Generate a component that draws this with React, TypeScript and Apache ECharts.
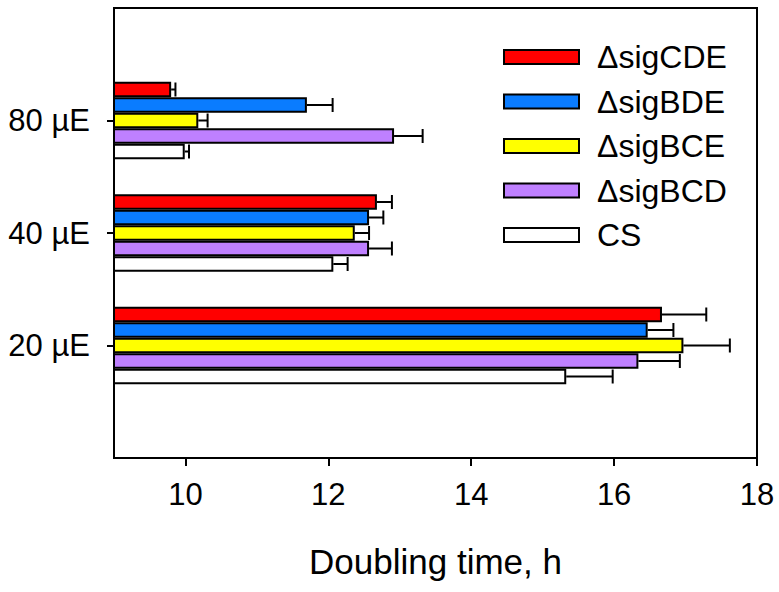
import React, { useEffect, useRef } from "react";
import * as echarts from "echarts";

const categories = ["20 µE", "40 µE", "80 µE"];
const seriesNames = ["ΔsigCDE", "ΔsigBDE", "ΔsigBCE", "ΔsigBCD", "CS"];
const seriesColors = ["#FF0000", "#0A7CFF", "#FFFF00", "#BF80FF", "#FFFFFF"];
const cdeValues = [16.67, 12.68, 9.8];
const cdeErrors = [0.62, 0.21, 0.06];
const bdeValues = [16.47, 12.57, 11.7];
const bdeErrors = [0.36, 0.2, 0.36];
const bceValues = [16.97, 12.37, 10.18];
const bceErrors = [0.65, 0.2, 0.13];
const bcdValues = [16.34, 12.57, 12.92];
const bcdErrors = [0.58, 0.32, 0.4];
const csValues = [15.33, 12.07, 9.99];
const csErrors = [0.65, 0.2, 0.06];
const xTicks = [10, 12, 14, 16, 18];

const allValues = [cdeValues, bdeValues, bceValues, bcdValues, csValues];
const allErrors = [cdeErrors, bdeErrors, bceErrors, bcdErrors, csErrors];

const FONT = "Liberation Sans, Arial, sans-serif";
const BAR_W = 15.5;

export default function App() {
  const ref = useRef<HTMLDivElement>(null);
  useEffect(() => {
    if (!ref.current) return;
    const chart = echarts.init(ref.current, null, { renderer: "svg" });
    const yData = ["", ...categories, ""];
    const nSeries = seriesNames.length;

    const barSeries = seriesNames.map((name, i) => ({
      name,
      type: "bar",
      data: [null, ...allValues[i], null],
      barWidth: BAR_W,
      barGap: "0%",
      itemStyle: { color: seriesColors[i], borderColor: "#000", borderWidth: 2 },
      emphasis: { disabled: true },
      clip: true,
      z: 2,
    }));

    const errData: any[] = [];
    allValues.forEach((vals, i) => {
      vals.forEach((v, j) => {
        errData.push([v, j + 1, allErrors[i][j], i]);
      });
    });

    const errSeries = {
      type: "custom",
      name: "err",
      data: errData,
      encode: { x: 0, y: 1 },
      z: 3,
      renderItem: (params: any, api: any) => {
        const v = api.value(0);
        const c = api.value(1);
        const e = api.value(2);
        const k = api.value(3);
        const p0 = api.coord([v, c]);
        const p1 = api.coord([v + e, c]);
        const y = p0[1] + (k - (nSeries - 1) / 2) * BAR_W;
        const half = 7;
        return {
          type: "group",
          children: [
            {
              type: "line",
              shape: { x1: p0[0], y1: y, x2: p1[0], y2: y },
              style: { stroke: "#000", lineWidth: 2 },
            },
            {
              type: "line",
              shape: { x1: p1[0], y1: y - half, x2: p1[0], y2: y + half },
              style: { stroke: "#000", lineWidth: 2 },
            },
          ],
        };
      },
    };

    chart.setOption({
      animation: false,
      backgroundColor: "#fff",
      textStyle: { fontFamily: FONT },
      grid: {
        left: 114,
        right: 22,
        top: 8,
        height: 450,
        show: true,
        borderColor: "#000",
        borderWidth: 2,
        backgroundColor: "transparent",
      },
      legend: {
        data: seriesNames,
        orient: "vertical",
        left: 498,
        top: 36,
        padding: 5,
        itemWidth: 75,
        itemHeight: 14,
        itemGap: 12.5,
        icon: "rect",
        selectedMode: false,
        textStyle: {
          fontFamily: FONT,
          fontSize: 32,
          color: "#000",
          lineHeight: 30,
          padding: [0, 0, 0, 13],
        },
      },
      xAxis: {
        type: "value",
        min: 9,
        max: 18,
        splitLine: { show: false },
        axisLine: { show: true, lineStyle: { color: "#000", width: 2 } },
        axisTick: {
          show: true,
          length: 8,
          inside: false,
          customValues: xTicks,
          lineStyle: { color: "#000", width: 2 },
        },
        axisLabel: {
          customValues: xTicks,
          fontFamily: FONT,
          fontSize: 31,
          color: "#000",
          margin: 21,
        },
        name: "Doubling time, h",
        nameLocation: "middle",
        nameGap: 86,
        nameTextStyle: { fontFamily: FONT, fontSize: 35, color: "#000" },
      },
      yAxis: {
        type: "category",
        data: yData,
        boundaryGap: false,
        axisLine: { show: true, lineStyle: { color: "#000", width: 2 } },
        axisTick: {
          show: true,
          length: 7,
          interval: (index: number) => index >= 1 && index <= categories.length,
          lineStyle: { color: "#000", width: 2 },
        },
        axisLabel: {
          interval: 0,
          fontFamily: FONT,
          fontSize: 31,
          color: "#000",
          margin: 24,
        },
        splitLine: { show: false },
      },
      series: [...barSeries, errSeries],
    });
    return () => chart.dispose();
  }, []);
  return <div ref={ref} style={{ width: 779, height: 592, position: "absolute", left: 0, top: 0 }} />;
}
